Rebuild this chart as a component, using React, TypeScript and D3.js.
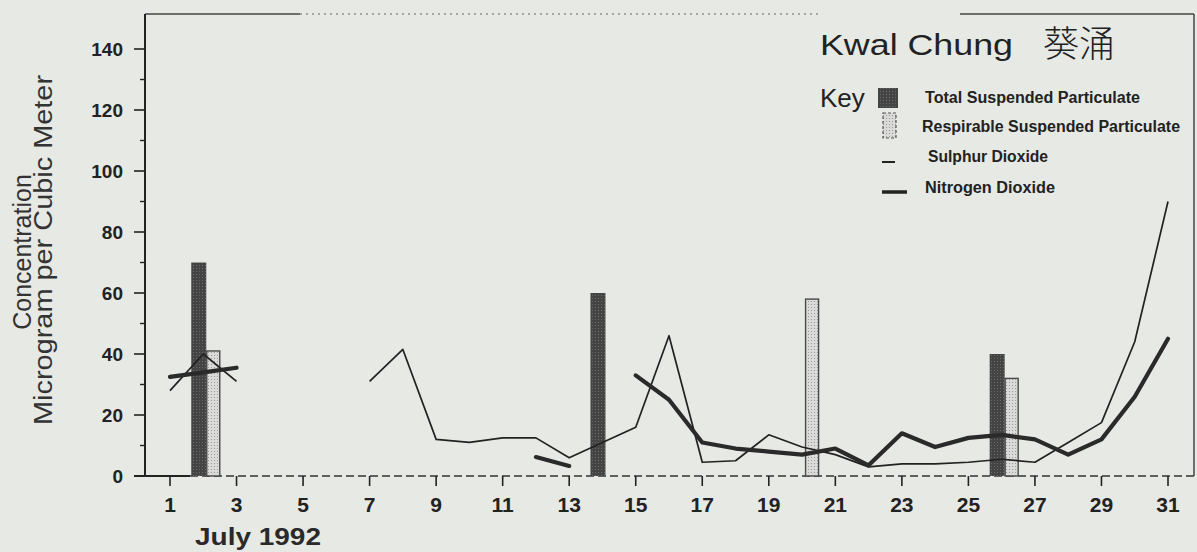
import * as d3 from 'd3';

// Kwal Chung air quality, July 1992
const xTickDays = [1, 3, 5, 7, 9, 11, 13, 15, 17, 19, 21, 23, 25, 27, 29, 31];
const yTickValues = [0, 20, 40, 60, 80, 100, 120, 140];
const yMinorValues = [10, 30, 50, 70, 90, 110, 130];

const tspDays = [2, 14, 26];
const tspValues = [70, 60, 40];
const rspDays = [2, 20, 26];
const rspValues = [41, 58, 32];

const lineDays = [
  1, 2, 3, 4, 5, 6, 7, 8, 9, 10, 11, 12, 13, 14, 15, 16, 17, 18, 19, 20, 21, 22, 23, 24, 25, 26, 27, 28, 29, 30, 31,
];
const so2Values: (number | null)[] = [
  28, 40, 31, null, null, null, 31, 41.5, 12, 11, 12.5, 12.5, 6, 11, 16, 46, 4.5, 5, 13.5, 9.5, 7, 3, 4, 4, 4.5, 5.5,
  4.5, 11, 17.5, 44, 90,
];
const no2Values: (number | null)[] = [
  32.5, 34, 35.5, null, null, null, null, null, null, null, null, 6.2, 3.3, null, 33, 25, 11, 9, 8, 7, 9, 3.5, 14, 9.5,
  12.5, 13.5, 12, 7, 12, 26, 45,
];

const legendLabels = [
  'Total Suspended Particulate',
  'Respirable Suspended Particulate',
  'Sulphur Dioxide',
  'Nitrogen Dioxide',
];

const width = 1197;
const height = 552;
const left = 145;
const right = 1194;
const top = 14;
const bottom = 476;
const ink = '#222';
const font = '"Liberation Sans", Arial, sans-serif';

const App = () => {
  const x = d3.scaleLinear().domain([1, 31]).range([170, 1168]);
  const y = d3.scaleLinear().domain([0, 140]).range([bottom, 49]);

  const so2 = lineDays.map((d, i) => ({ d, v: so2Values[i] }));
  const no2 = lineDays.map((d, i) => ({ d, v: no2Values[i] }));
  const line = d3
    .line<{ d: number; v: number | null }>()
    .defined((p) => p.v !== null)
    .x((p) => x(p.d))
    .y((p) => y(p.v as number));

  return (
    <div style={{ position: 'absolute', left: 0, top: 0 }}>
      <svg width={width} height={height} style={{ display: 'block' }}>
        <defs>
          <pattern id="tsp" width="3" height="3" patternUnits="userSpaceOnUse">
            <rect width="3" height="3" fill="#444" />
            <rect x="1" y="1" width="1" height="1" fill="#6a6a6a" />
          </pattern>
          <pattern id="rsp" width="3" height="3" patternUnits="userSpaceOnUse">
            <rect width="3" height="3" fill="#dadad8" />
            <rect x="1" y="1" width="1" height="1" fill="#9a9a9a" />
          </pattern>
        </defs>
        <rect width={width} height={height} fill="#e7e9e5" />

        {/* frame, faded in the middle like the scan */}
        <line x1={left} x2={300} y1={top} y2={top} stroke="#444" strokeWidth={1.5} />
        <line x1={300} x2={820} y1={top} y2={top} stroke="#666" strokeWidth={1.2} strokeDasharray="2 4" />
        <line x1={960} x2={right} y1={top} y2={top} stroke="#444" strokeWidth={1.5} />
        <line x1={right} x2={right} y1={top} y2={bottom} stroke="#444" strokeWidth={1.5} />

        {/* x axis baseline */}
        <line x1={left - 11} x2={190} y1={bottom} y2={bottom} stroke={ink} strokeWidth={1.8} />
        <line x1={190} x2={right} y1={bottom} y2={bottom} stroke="#333" strokeWidth={1.6} strokeDasharray="8 4" />

        {/* bars */}
        {tspDays.map((d, i) => (
          <rect
            key={'t' + d}
            x={x(d) - 12}
            y={y(tspValues[i])}
            width={15}
            height={bottom - y(tspValues[i])}
            fill="url(#tsp)"
          />
        ))}
        {rspDays.map((d, i) => (
          <rect
            key={'r' + d}
            x={x(d) + 3.5}
            y={y(rspValues[i])}
            width={13}
            height={bottom - y(rspValues[i])}
            fill="url(#rsp)"
            stroke="#4a4a4a"
            strokeWidth={1.4}
          />
        ))}

        {/* lines */}
        <path d={line(so2) ?? ''} fill="none" stroke={ink} strokeWidth={1.7} strokeLinejoin="round" />
        <path
          d={line(no2) ?? ''}
          fill="none"
          stroke="#2a2a2a"
          strokeWidth={4.2}
          strokeLinejoin="round"
          strokeLinecap="round"
        />

        {/* y axis */}
        <line x1={left} x2={left} y1={top} y2={bottom} stroke={ink} strokeWidth={2} />
        {yTickValues.map((v) => (
          <g key={'y' + v}>
            <line x1={left - 11} x2={left} y1={y(v)} y2={y(v)} stroke={ink} strokeWidth={1.6} />
            <text
              x={123}
              y={y(v)}
              textAnchor="end"
              dominantBaseline="central"
              fontSize={19}
              fontWeight="bold"
              fontFamily={font}
              fill={ink}
            >
              {v}
            </text>
          </g>
        ))}
        {yMinorValues.map((v) => (
          <line key={'m' + v} x1={left - 5} x2={left} y1={y(v)} y2={y(v)} stroke={ink} strokeWidth={1.4} />
        ))}

        {/* x ticks */}
        {xTickDays.map((d) => (
          <g key={'x' + d}>
            <line x1={x(d)} x2={x(d)} y1={bottom} y2={bottom + 10} stroke={ink} strokeWidth={1.6} />
            <text
              x={x(d)}
              y={512}
              textAnchor="middle"
              fontSize={21}
              fontWeight="bold"
              fontFamily={font}
              fill={ink}
            >
              {d}
            </text>
          </g>
        ))}
        <text
          x={258}
          y={545}
          textAnchor="middle"
          fontSize={24}
          fontWeight="bold"
          fontFamily={font}
          fill="#2a2a2a"
          textLength={126}
          lengthAdjust="spacingAndGlyphs"
        >
          July 1992
        </text>

        {/* y axis title */}
        <text
          transform="translate(31,252) rotate(-90)"
          textAnchor="middle"
          fontSize={25}
          fontFamily={font}
          fill="#333"
        >
          Concentration
        </text>
        <text
          transform="translate(52,250) rotate(-90)"
          textAnchor="middle"
          fontSize={25}
          fontFamily={font}
          fill="#333"
          textLength={350}
          lengthAdjust="spacingAndGlyphs"
        >
          Microgram per Cubic Meter
        </text>

        {/* title */}
        <text x={820} y={55} fontSize={30} fontFamily={font} fill={ink} textLength={193} lengthAdjust="spacingAndGlyphs">
          Kwal Chung
        </text>
        <text x={1043} y={57} fontSize={36} fontFamily='"Noto Sans CJK TC", sans-serif' fill={ink} fontWeight={300}>
          葵涌
        </text>

        {/* key */}
        <text x={820} y={107} fontSize={26} fontFamily={font} fill={ink}>
          Key
        </text>
        <rect x={878} y={88} width={20} height={20} fill="url(#tsp)" />
        <rect
          x={883}
          y={113}
          width={13}
          height={25}
          fill="url(#rsp)"
          stroke="#555"
          strokeWidth={1.2}
          strokeDasharray="3 2"
        />
        <line x1={882} x2={895} y1={162} y2={162} stroke={ink} strokeWidth={2} />
        <line x1={882} x2={907} y1={192} y2={192} stroke={ink} strokeWidth={3.5} />
        {legendLabels.map((label, i) => (
          <text
            key={label}
            x={[925, 922, 928, 925][i]}
            y={[103, 132, 162, 193][i]}
            fontSize={16}
            fontWeight="bold"
            fontFamily={font}
            fill={ink}
            textLength={[215, 258, 120, 130][i]}
            lengthAdjust="spacingAndGlyphs"
          >
            {label}
          </text>
        ))}
      </svg>
    </div>
  );
};

export default App;
